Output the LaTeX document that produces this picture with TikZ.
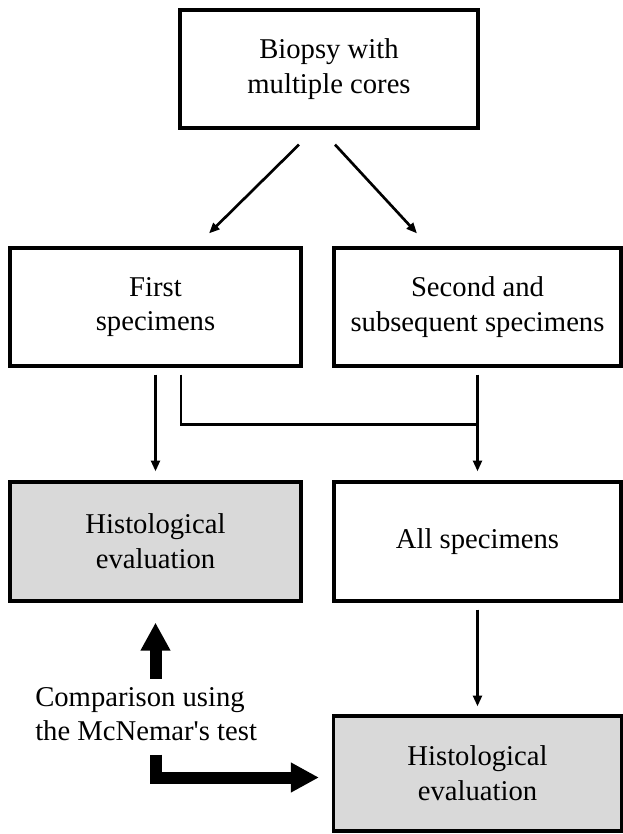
\documentclass[tikz,border=0pt]{standalone}
\usepackage{fontspec}
\setmainfont{Liberation Serif}
\usetikzlibrary{calc,arrows.meta}
\tikzset{
  box/.style={draw, line width=2.4pt, align=center, inner sep=0pt},
  greybox/.style={box, fill=boxgrey},
  thinarrow/.style={line width=2pt, -{Triangle[length=8pt,width=6.5pt]}},
  thickarrow/.style={line width=9pt, -{Triangle[length=21pt,width=21pt]}}
}
\definecolor{boxgrey}{HTML}{D9D9D9}
\newcommand{\boxfont}{\fontsize{21.5}{26}\selectfont}
\begin{document}
\begin{tikzpicture}[x=0.75pt,y=-0.75pt]
            \useasboundingbox (0,0) rectangle (623,834);
            {\boxfont
            
            % Drawing box biopsy
            \node [box, minimum width=223.5pt, minimum height=88.5pt] (biopsy) at (329,69) {Biopsy with\\multiple cores};%
            
            % Drawing box first
            \node [box, minimum width=218.25pt, minimum height=88.5pt] (first) at (155.5,307) {First\\specimens};%
            
            % Drawing box second
            \node [box, minimum width=215.25pt, minimum height=88.5pt] (second) at (477.5,307) {Second and\\subsequent specimens};%
            
            % Drawing box histo1
            \node [greybox, minimum width=218.25pt, minimum height=89.25pt] (histo1) at (155.5,541.5) {Histological\\evaluation};%
            
            % Drawing box all
            \node [box, minimum width=215.25pt, minimum height=89.25pt] (all) at (477.5,541.5) {All specimens};%
            
            % Drawing box histo2
            \node [greybox, minimum width=216pt, minimum height=86.25pt] (histo2) at (477.5,773.5) {Histological\\evaluation};%
            
            % Marking text cmp
            \node [anchor=west, align=left, inner sep=0pt] (cmp) at (35,714) {Comparison using\\the McNemar\textquotesingle s test};%
            
            % Drawing arrows biopsy to first and second
            \draw [thinarrow] ($(biopsy.south)+(-30,15)$) -- ($(first.north)+(53.5,-13)$);%
            \draw [thinarrow] ($(biopsy.south)+(6,15)$) -- ($(second.north)+(-60.5,-13)$);%
            
            % Drawing arrow first to histo1
            \draw [thinarrow] ($(first.south)+(0,7)$) -- ($(histo1.north)+(0,-9)$);%
            
            % Drawing joining line first to all
            \coordinate (join) at ($(second.south)+(0,57)$);%
            \draw [line width=2pt] ($(first.south)+(25.5,7)$) |- (join);%
            
            % Drawing arrow second to all
            \draw [thinarrow] ($(second.south)+(0,7)$) -- ($(all.north)+(0,-9)$);%
            
            % Drawing arrow all to histo2
            \draw [thinarrow] ($(all.south)+(0,7)$) -- ($(histo2.north)+(0,-8)$);%
            
            % Drawing thick arrows from cmp
            \draw [thickarrow] ($(histo1.south)+(0,76)$) -- ($(histo1.south)+(0,20)$);%
            \draw [thickarrow] ($(histo1.south)+(0.5,152)$) |- ($(histo2.west)+(-13,4)$);%
            }
\end{tikzpicture}
\end{document}
